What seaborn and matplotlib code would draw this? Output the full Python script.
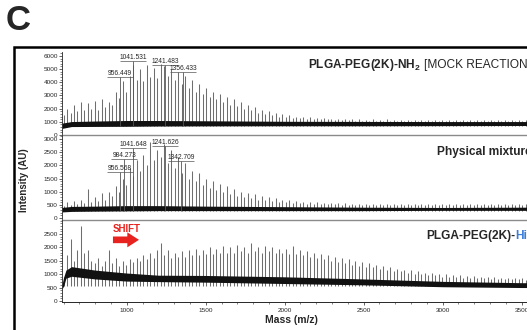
import numpy as np
import matplotlib
matplotlib.use("Agg")
import matplotlib.pyplot as plt
from matplotlib.patches import Rectangle
from matplotlib.ticker import MultipleLocator
import seaborn as sns

# ---- data ----------------------------------------------------------------------
# peak positions (m/z), shared by the three spectra
mz = [600, 622, 644, 666, 688, 710, 732, 754, 776, 798,
      820, 842, 864, 886, 908, 930, 952, 974, 996, 1018,
      1040, 1062, 1084, 1106, 1128, 1150, 1172, 1194, 1216, 1238,
      1260, 1282, 1304, 1326, 1348, 1370, 1392, 1414, 1436, 1458,
      1480, 1502, 1524, 1546, 1568, 1590, 1612, 1634, 1656, 1678,
      1700, 1722, 1744, 1766, 1788, 1810, 1832, 1854, 1876, 1898,
      1920, 1942, 1964, 1986, 2008, 2030, 2052, 2074, 2096, 2118,
      2140, 2162, 2184, 2206, 2228, 2250, 2272, 2294, 2316, 2338,
      2360, 2382, 2404, 2426, 2448, 2470, 2492, 2514, 2536, 2558,
      2580, 2602, 2624, 2646, 2668, 2690, 2712, 2734, 2756, 2778,
      2800, 2822, 2844, 2866, 2888, 2910, 2932, 2954, 2976, 2998,
      3020, 3042, 3064, 3086, 3108, 3130, 3152, 3174, 3196, 3218,
      3240, 3262, 3284, 3306, 3328, 3350, 3372, 3394, 3416, 3438,
      3460, 3482, 3504, 3526, 3548, 3570, 3592, 3614, 3636, 3658,
      3680, 3702, 3724, 3746, 3768, 3790]

mock_int = [1500, 2000, 1700, 2300, 1800, 2500, 1900, 2400, 2000, 2600,
            1900, 2700, 2100, 2500, 2300, 3300, 2800, 4100, 3300, 4500,
            5300, 4200, 5000, 4100, 5300, 4400, 5100, 4300, 5400, 5200,
            4500, 5000, 4200, 4800, 3900, 4500, 3600, 4200, 3300, 3900,
            3100, 3600, 2900, 3300, 2700, 3100, 2500, 2900, 2300, 2700,
            2200, 2500, 2000, 2300, 1900, 2100, 1700, 1900, 1600, 1800,
            1500, 1700, 1400, 1600, 1400, 1500, 1300, 1400, 1300, 1400,
            1250, 1350, 1250, 1300, 1200, 1300, 1200, 1250, 1150, 1250,
            1150, 1200, 1150, 1200, 1100, 1200, 1100, 1150, 1100, 1200,
            1100, 1150, 1100, 1200, 1100, 1150, 1100, 1150, 1100, 1150,
            1100, 1150, 1100, 1150, 1100, 1150, 1100, 1150, 1100, 1150,
            1100, 1150, 1100, 1150, 1100, 1150, 1100, 1150, 1100, 1150,
            1100, 1150, 1100, 1150, 1100, 1150, 1100, 1150, 1100, 1150,
            1100, 1150, 1100, 1150, 1100, 1150, 1100, 1150, 1100, 1150,
            1100, 1150, 1100, 1150, 1100, 1150]

mix_int = [450, 600, 480, 650, 520, 700, 560, 1100, 600, 800,
           650, 950, 700, 1000, 850, 1200, 1000, 1500, 1250, 1900,
           1600, 2200, 1800, 2400, 2000, 2900, 2200, 2600, 2300, 2800,
           2100, 2600, 1900, 2300, 1700, 2100, 1500, 1800, 1400, 1700,
           1250, 1500, 1150, 1400, 1050, 1300, 1000, 1200, 900, 1100,
           850, 1000, 800, 950, 750, 900, 700, 850, 680, 800,
           650, 750, 620, 700, 600, 680, 580, 650, 560, 620,
           550, 600, 540, 600, 530, 580, 520, 570, 520, 560,
           510, 560, 510, 550, 500, 550, 500, 550, 500, 550,
           500, 540, 500, 540, 500, 540, 500, 540, 500, 540,
           500, 540, 500, 540, 500, 540, 500, 540, 500, 540,
           500, 540, 500, 540, 500, 540, 500, 540, 500, 540,
           500, 540, 500, 540, 500, 540, 500, 540, 500, 540,
           500, 540, 500, 540, 500, 540, 500, 540, 500, 540,
           500, 540, 500, 540, 500, 540]

his_int = [900, 1700, 2300, 1500, 1900, 2800, 1800, 1900, 1500, 1400,
           1600, 1300, 1500, 1900, 1400, 1600, 1300, 1500, 1350, 1550,
           1450, 1600, 1500, 1700, 1550, 1800, 1600, 1900, 2150, 1700,
           1900, 1600, 1800, 1650, 1850, 1650, 1900, 1700, 1950, 1700,
           1900, 1750, 2000, 1750, 1950, 1800, 2050, 1800, 2000, 1800,
           2100, 1850, 2000, 1800, 2150, 1850, 2000, 1800, 2050, 1850,
           2000, 1800, 1950, 1800, 1950, 1750, 2050, 1750, 1900, 1700,
           1850, 1650, 1800, 1600, 1750, 1550, 1700, 1500, 1650, 1450,
           1600, 1400, 1550, 1350, 1500, 1300, 1450, 1250, 1400, 1250,
           1350, 1200, 1300, 1150, 1250, 1100, 1200, 1100, 1150, 1050,
           1150, 1000, 1100, 1000, 1050, 950, 1050, 950, 1000, 900,
           1000, 900, 950, 880, 950, 870, 930, 860, 920, 850,
           900, 840, 900, 830, 880, 820, 870, 810, 860, 800,
           850, 800, 840, 790, 830, 780, 820, 780, 810, 770,
           800, 760, 790, 750, 780, 740]

# dense noise floor (lower / upper edge of the black band)
band_mz = [590, 650, 800, 1000, 1200, 1500, 2000, 2500, 3000, 3500, 3800]
mock_lo = [500, 640, 650, 660, 680, 690, 700, 700, 710, 720, 720]
mock_hi = [900, 1020, 1060, 1100, 1100, 1080, 1040, 1030, 1020, 1020, 1020]
mix_lo = [230, 250, 260, 270, 280, 280, 280, 280, 290, 290, 290]
mix_hi = [400, 440, 450, 470, 470, 450, 430, 410, 400, 410, 420]
his_band_mz = [590, 600, 615, 650, 800, 1000, 1200, 1500, 2000, 2500, 3000, 3500, 3800]
his_lo = [450, 550, 850, 920, 820, 740, 720, 700, 650, 600, 530, 500, 500]
his_hi = [600, 880, 1150, 1280, 1150, 1040, 960, 950, 900, 820, 730, 680, 680]

# labelled peaks
mock_lab_mz = [956.449, 1041.531, 1241.483, 1356.433]
mock_lab_y = [4400, 5600, 5300, 4800]
mix_lab_mz = [956.568, 984.273, 1041.648, 1241.626, 1342.709]
mix_lab_y = [1750, 2240, 2660, 2740, 2170]

# ---- style ---------------------------------------------------------------------
sns.set_theme(style="ticks")
plt.rcParams["font.family"] = ["Liberation Sans", "DejaVu Sans"]
plt.rcParams["mathtext.fontset"] = "custom"
plt.rcParams["mathtext.rm"] = "Liberation Sans"
plt.rcParams["mathtext.bf"] = "Liberation Sans:bold"

W, H = 527, 330
fig = plt.figure(figsize=(W / 100, H / 100), dpi=100)


def ax_at(top, bottom):
    # pixel rows -> figure fraction; the axes run past the right edge (cropped figure)
    return fig.add_axes([62 / W, 1 - bottom / H, 507 / W, (bottom - top) / H])


ax1 = ax_at(52, 135)
ax2 = ax_at(135, 220)
ax3 = ax_at(220, 302)

panels = [
    (ax1, mock_int, band_mz, mock_lo, mock_hi, 650, (0, 6300), 1000, 200),
    (ax2, mix_int, band_mz, mix_lo, mix_hi, 270, (-76, 3152), 500, 100),
    (ax3, his_int, his_band_mz, his_lo, his_hi, 560, (-40, 3020), 500, 100),
]
for ax, inten, bmz, lo, hi, floor, ylim, maj, mnr in panels:
    ax.vlines(mz[:len(inten)], floor, inten, color="#6e6e6e", lw=0.75, zorder=1)
    ax.fill_between(bmz, lo, hi, color="#111111", lw=0, zorder=2)
    ax.set_xlim(590, 3800)
    ax.set_ylim(*ylim)
    ax.yaxis.set_major_locator(MultipleLocator(maj))
    ax.yaxis.set_minor_locator(MultipleLocator(mnr))
    ax.set_yticks(np.arange(0, ylim[1] - 100, maj))
    ax.tick_params(axis="y", which="major", labelsize=4.6, length=2, width=0.5, pad=1)
    ax.tick_params(axis="y", which="minor", length=1.2, width=0.4)
    ax.set_facecolor("none")
    for s in ("top", "right"):
        ax.spines[s].set_visible(False)
    ax.spines["left"].set_linewidth(0.6)

for ax in (ax1, ax2):
    ax.spines["bottom"].set_color("#8a8a8a")
    ax.spines["bottom"].set_linewidth(1.0)
    ax.tick_params(axis="x", which="both", bottom=False, labelbottom=False)

ax3.spines["bottom"].set_linewidth(0.7)
ax3.xaxis.set_major_locator(MultipleLocator(500))
ax3.xaxis.set_minor_locator(MultipleLocator(100))
ax3.set_xticks([1000, 1500, 2000, 2500, 3000, 3500])
ax3.tick_params(axis="x", which="major", labelsize=4.6, length=2, width=0.5, pad=2)
ax3.tick_params(axis="x", which="minor", length=1.2, width=0.4)

# peak labels with leader lines
for ax, lmz, ly, floor in [(ax1, mock_lab_mz, mock_lab_y, 650), (ax2, mix_lab_mz, mix_lab_y, 270)]:
    for m, y in zip(lmz, ly):
        ax.vlines(m, floor, y, color="#555555", lw=0.6, zorder=3)
        ax.hlines(y, m - 82, m + 82, color="#555555", lw=0.5, zorder=3)
        ax.text(m, y, f"{m:.3f}", ha="center", va="bottom", fontsize=4.8, zorder=4)

# panel titles (the source figure is cropped on the right, so these run off the edge)
fs = 8.6
fig.text(308 / W, 1 - 65 / H, r"PLGA-PEG(2K)-NH$_\mathbf{2}$", fontsize=fs,
         fontweight="bold", ha="left", va="center")
fig.text(424 / W, 1 - 65 / H, "[MOCK REACTION]", fontsize=fs, ha="left", va="center")
fig.text(437 / W, 1 - 152 / H, "Physical mixture", fontsize=fs, fontweight="bold",
         ha="left", va="center")
t3 = fig.text(426 / W, 1 - 236 / H, "PLGA-PEG(2K)-", fontsize=fs, fontweight="bold",
              ha="left", va="center")
ax3.annotate("His-tag", xy=(1, 0.5), xycoords=t3, fontsize=fs, fontweight="bold",
             color="#3b7dd8", ha="left", va="center", annotation_clip=False)

# SHIFT arrow
ax3.text(1001, 2690, "SHIFT", color="#e8231f", fontsize=7, fontweight="bold",
         ha="center", va="center")
ax3.annotate("", xy=(1095, 2280), xytext=(895, 2280),
             arrowprops=dict(arrowstyle="simple,head_length=0.7,head_width=0.9,tail_width=0.4",
                             color="#e8231f", lw=0))

# axis labels, panel letter, frame
fig.text(24 / W, 1 - 180 / H, "Intensity (AU)", rotation=90, fontsize=7,
         fontweight="bold", ha="center", va="center")
fig.text(291 / W, 1 - 320 / H, "Mass (m/z)", fontsize=7.5, fontweight="bold",
         ha="center", va="center")
fig.text(6 / W, 1 - 21 / H, "C", fontsize=25, fontweight="bold", ha="left", va="center")
fig.add_artist(Rectangle((14 / W, -0.1), 1.2, 1 - 47 / H + 0.1, transform=fig.transFigure,
                         fill=False, lw=1.8, edgecolor="black"))

fig.savefig("out.png", dpi=100)
